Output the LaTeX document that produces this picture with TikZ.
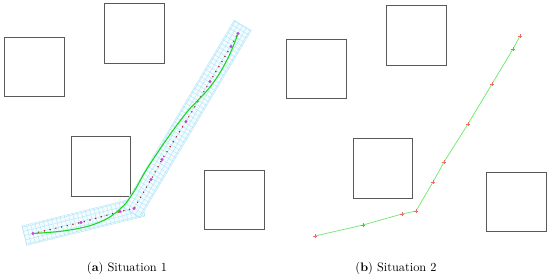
\documentclass[tikz,border=0pt]{standalone}
\usepackage{tikz}
\usetikzlibrary{calc}
\definecolor{smoothgreen}{RGB}{25,215,25}
\definecolor{lightgreen}{RGB}{110,230,110}
\definecolor{wayviolet}{RGB}{205,60,225}
\definecolor{dotred}{RGB}{170,30,40}
\definecolor{markred}{RGB}{235,110,100}
\tikzset{
	obstacle/.style={draw=black!65, line width=0.8pt},
	corridor/.style={draw=cyan!35, line width=0.25pt},
	corridorfill/.style={fill=cyan!5},
	waypath/.style={draw=dotred, line width=1.4pt, line cap=round, dash pattern=on 0pt off 5pt},
	waymark/.style={fill=wayviolet},
	smoothpath/.style={draw=smoothgreen, line width=0.9pt},
	straightpath/.style={draw=lightgreen, line width=0.6pt},
	crossmark/.style={draw=markred, line width=0.5pt},
	caption/.style={font=\fontsize{10.5}{12}\selectfont},
}

\begin{document}
\begin{tikzpicture}[x=0.03cm,y=-0.03cm]
\useasboundingbox (0,0) rectangle (550,277);

% (a) corridor with way points and smoothed path
\begin{scope}
\draw[obstacle] (4,37) rectangle (64,96);
\draw[obstacle] (104,3) rectangle (164,63);
\draw[obstacle] (71,136) rectangle (130,196);
\draw[obstacle] (204,170) rectangle (264,229);
\foreach \px/\py [count=\i from 0] in {33/233.5,81/222.5,120/211.5,134/208.5,151/179.5,162/159.5,186/121.5,210/81.5,231/46.5,238/33.5}
	\coordinate (w\i) at (\px,\py);
\begin{scope}[shift={(w0)},rotate=13.9,y=0.03cm]
\path[corridorfill] (-9,-10) rectangle (113,10);
\draw[corridor] (-9,-10) grid[step=0.13cm] (113,10);
\draw[corridor] (-9,-10) rectangle (113,10);
\end{scope}
\begin{scope}[shift={(w3)},rotate=59.3,y=0.03cm]
\path[corridorfill] (-5,-10) rectangle (213,10);
\draw[corridor] (-5,-10) grid[step=0.13cm] (213,10);
\draw[corridor] (-5,-10) rectangle (213,10);
\end{scope}
\draw[waypath] (w0) \foreach \i in {1,...,9} {-- (w\i)};
\foreach \i in {0,...,9}
	\fill[waymark] (w\i) circle (1.3pt);
\draw[smoothpath] plot[smooth,tension=0.7] coordinates {(33,233.5) (70,230) (100,222) (120,209) (133,193) (150,164) (183,117) (210,87) (227,60) (238,33.5)};
\end{scope}

% (b) straight path through the way points
\begin{scope}[shift={(282,2.5)}]
\draw[obstacle] (4,37) rectangle (64,96);
\draw[obstacle] (104,3) rectangle (164,63);
\draw[obstacle] (71,136) rectangle (130,196);
\draw[obstacle] (204,170) rectangle (264,229);
\foreach \px/\py [count=\i from 0] in {33/233.5,81/222.5,120/211.5,134/208.5,151/179.5,162/159.5,186/121.5,210/81.5,231/46.5,238/33.5}
	\coordinate (v\i) at (\px,\py);
\draw[straightpath] (v0) \foreach \i in {1,...,9} {-- (v\i)};
\foreach \i in {0,...,9}
	\draw[crossmark] ([xshift=-2pt]v\i) -- ([xshift=2pt]v\i) ([yshift=-2pt]v\i) -- ([yshift=2pt]v\i);
\end{scope}

\node[caption] (capA) at (127,268) {(\textbf{a}) Situation 1};
\node[caption] (capB) at (396,268) {(\textbf{b}) Situation 2};

\end{tikzpicture}
\end{document}
